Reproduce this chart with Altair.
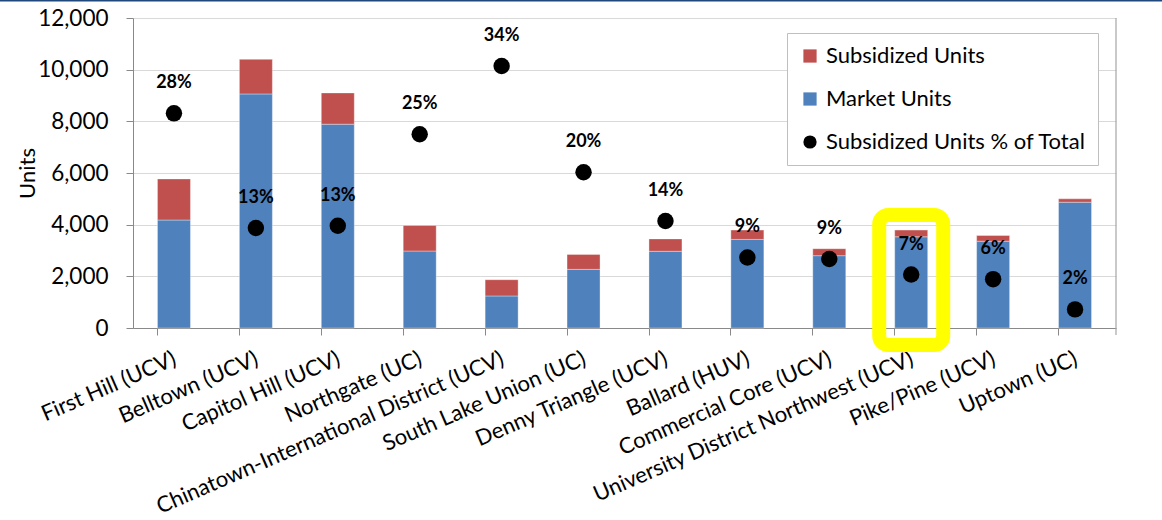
import altair as alt
import pandas as pd

# Urban villages and centers, in display order
neighborhoods = [
    "First Hill (UCV)",
    "Belltown (UCV)",
    "Capitol Hill (UCV)",
    "Northgate (UC)",
    "Chinatown-International District (UCV)",
    "South Lake Union (UC)",
    "Denny Triangle (UCV)",
    "Ballard (HUV)",
    "Commercial Core (UCV)",
    "University District Northwest (UCV)",
    "Pike/Pine (UCV)",
    "Uptown (UC)",
]
market_units = [4180, 9060, 7890, 2980, 1240, 2270, 2970, 3430, 2800, 3530, 3360, 4870]
subsidized_units = [1590, 1340, 1210, 990, 630, 580, 480, 360, 270, 260, 220, 130]
subsidized_share = [0.277, 0.129, 0.132, 0.250, 0.338, 0.201, 0.138, 0.091, 0.089, 0.069, 0.063, 0.024]

series_names = ["Subsidized Units", "Market Units", "Subsidized Units % of Total"]
series_colors = ["#C0504D", "#4F81BD", "#000000"]
series_shapes = ["square", "square", "circle"]

# Highlighted neighborhood and the unit range its frame spans
highlighted = ["University District Northwest (UCV)"]
frame_top_units = [4375]
frame_bottom_units = [-655]

FONT = "Lato"
AXIS_GRAY = "#898989"
PLOT_W, PLOT_H = 983, 310

bars_df = pd.DataFrame(
    {
        "neighborhood": neighborhoods * 2,
        "series": ["Market Units"] * len(neighborhoods) + ["Subsidized Units"] * len(neighborhoods),
        "units": market_units + subsidized_units,
        "stack_rank": [0] * len(neighborhoods) + [1] * len(neighborhoods),
    }
)
share_df = pd.DataFrame(
    {
        "neighborhood": neighborhoods,
        "series": ["Subsidized Units % of Total"] * len(neighborhoods),
        "share": subsidized_share,
    }
)
frame_df = pd.DataFrame(
    {"neighborhood": highlighted, "top": frame_top_units, "bottom": frame_bottom_units}
)

x_enc = alt.X(
    "neighborhood:N",
    sort=neighborhoods,
    scale=alt.Scale(paddingInner=0.6, paddingOuter=0.3),
    axis=alt.Axis(
        title=None,
        labelAngle=-23.5,
        labelAlign="right",
        labelBaseline="top",
        labelPadding=13,
        labelOffset=-3,
        labelFontSize=22,
        labelFont=FONT,
        labelColor="black",
        labelLimit=500,
        bandPosition=0,
        tickSize=7,
        tickColor=AXIS_GRAY,
        domainColor=AXIS_GRAY,
        grid=False,
    ),
)

legend = alt.Legend(
    title=None,
    orient="none",
    legendX=654,
    legendY=15,
    direction="vertical",
    strokeColor="#bfbfbf",
    fillColor="white",
    padding=12,
    rowPadding=21,
    labelFont=FONT,
    labelFontSize=22,
    labelColor="black",
    labelOffset=5,
    symbolSize=175,
    symbolStrokeWidth=0,
    labelLimit=500,
)
color_scale = alt.Scale(domain=series_names, range=series_colors)
shape_scale = alt.Scale(domain=series_names, range=series_shapes)
units_scale = alt.Scale(domain=[0, 12000], nice=False)

bars = (
    alt.Chart(bars_df)
    .mark_bar(width=33, stroke="white", strokeOpacity=0.35, strokeWidth=1)
    .encode(
        x=x_enc,
        y=alt.Y(
            "units:Q",
            stack="zero",
            scale=units_scale,
            axis=alt.Axis(
                title="Units",
                values=list(range(0, 12001, 2000)),
                format=",.0f",
                labelFont=FONT,
                labelFontSize=22.5,
                labelColor="black",
                labelPadding=18,
                titleFont=FONT,
                titleFontSize=22,
                titleFontWeight="normal",
                titleColor="black",
                titlePadding=-2,
                tickSize=7,
                tickColor=AXIS_GRAY,
                domainColor=AXIS_GRAY,
                gridColor="#d9d9d9",
                gridWidth=1.2,
            ),
        ),
        color=alt.Color("series:N", scale=color_scale, legend=legend),
        order=alt.Order("stack_rank:Q"),
    )
)

frame = (
    alt.Chart(frame_df)
    .mark_bar(width=64, filled=False, stroke="#FFFF00", strokeWidth=14, cornerRadius=9)
    .encode(
        x=alt.X("neighborhood:N", sort=neighborhoods),
        y=alt.Y("top:Q", scale=units_scale, axis=None),
        y2="bottom:Q",
    )
)

share_y = alt.Y("share:Q", scale=alt.Scale(domain=[0, 0.4], nice=False), axis=None)

dots = (
    alt.Chart(share_df)
    .mark_point(filled=True, size=270, opacity=1)
    .encode(
        x=alt.X("neighborhood:N", sort=neighborhoods),
        y=share_y,
        color=alt.Color("series:N", scale=color_scale, legend=legend),
        shape=alt.Shape("series:N", scale=shape_scale, legend=legend),
    )
)

share_labels = (
    alt.Chart(share_df)
    .mark_text(dy=-30, font=FONT, fontSize=18, fontWeight="bold", color="black")
    .encode(
        x=alt.X("neighborhood:N", sort=neighborhoods),
        y=share_y,
        text=alt.Text("share:Q", format=".0%"),
    )
)

# Plot-area right edge (with its tick below the axis) and the page's top rule
edges_df = pd.DataFrame({"edge": ["right", "top"]})
right_edge = (
    alt.Chart(edges_df)
    .transform_filter(alt.datum.edge == "right")
    .mark_rule(color="#a6a6a6", strokeWidth=1.2)
    .encode(x=alt.value(PLOT_W), y=alt.value(0), y2=alt.value(PLOT_H + 7))
)
top_rule = (
    alt.Chart(edges_df)
    .transform_filter(alt.datum.edge == "top")
    .mark_rule(color="#1F497D", strokeWidth=1.5)
    .encode(x=alt.value(-133), x2=alt.value(PLOT_W + 46), y=alt.value(-17.3))
)

chart = (
    alt.layer(bars, right_edge, top_rule, frame, dots, share_labels)
    .resolve_scale(y="independent")
    .properties(
        width=PLOT_W,
        height=PLOT_H,
        autosize=alt.AutoSizeParams(type="none"),
        padding={"left": 133, "top": 18, "right": 46, "bottom": 192},
        background="white",
    )
    .configure_view(stroke=None)
)

chart.save("out.html", embed_options={"renderer": "svg", "actions": False})
